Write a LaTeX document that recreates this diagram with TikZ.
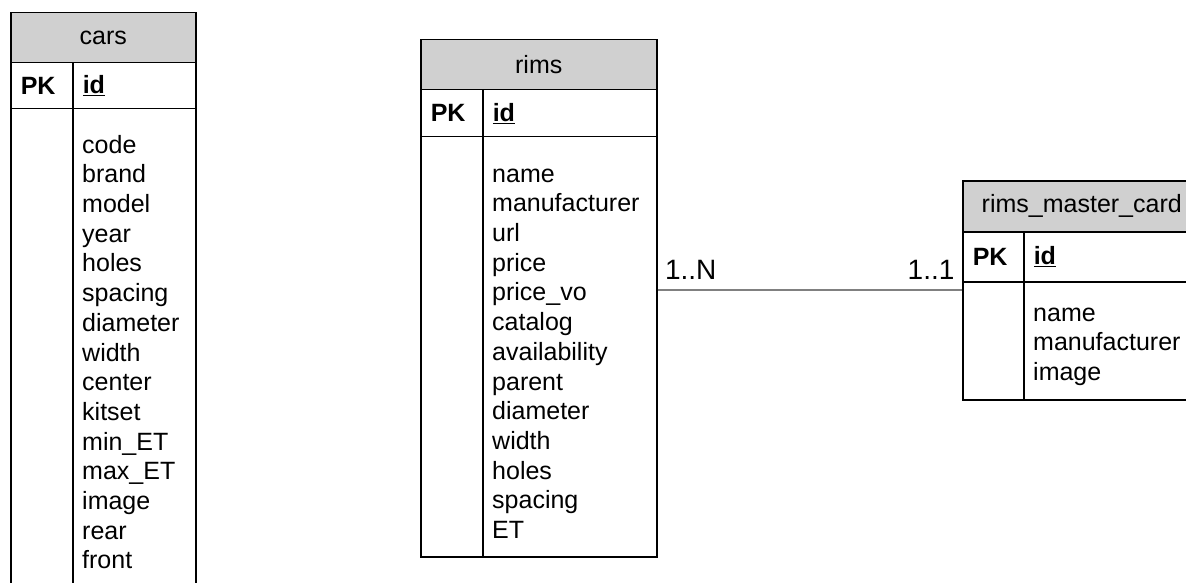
\documentclass[tikz,border=0pt]{standalone}
\usepackage{fontspec}
\setmainfont{Liberation Sans}
\usetikzlibrary{positioning}
\definecolor{hdrgray}{RGB}{208,208,208}
\definecolor{relgray}{RGB}{128,128,128}

\begin{document}
\begin{tikzpicture}[x=1pt,y=-1pt,
  every node/.style={font=\fontsize{25}{29.7}\selectfont},
  head/.style={draw,line width=1.5pt,fill=hdrgray,anchor=north west,minimum height=50pt,inner sep=0pt},
  keycell/.style={draw,line width=1.5pt,anchor=north west,minimum height=46pt,inner xsep=10pt,align=left,
    font=\fontsize{25}{29.7}\selectfont\bfseries},
  bodycell/.style={draw,line width=1.5pt,anchor=north west,inner sep=0pt},
  fields/.style={anchor=north west,inner sep=0pt,align=left},
  card/.style={inner xsep=7pt,inner ysep=10pt,font=\fontsize{28}{33}\selectfont},
  rel/.style={draw=relgray,line width=1.2pt}]
  \useasboundingbox (0,0) rectangle (1186,583);

  % cars
  \node[head,minimum width=185pt] (carsH) at (10,12) {cars};
  \node[keycell,text width=42pt] (carsPK) at (10,62) {PK};
  \node[keycell,text width=103pt] (carsId) at (72,62) {\underline{id}};
  \node[bodycell,minimum width=62pt,minimum height=500pt] (carsL) at (10,108) {};
  \node[bodycell,minimum width=123pt,minimum height=500pt] (carsB) at (72,108) {};
  \node[fields] (carsF) at (82,132.2) {\strut code\\brand\\model\\year\\holes\\spacing\\diameter\\width\\center\\kitset\\min\_ET\\max\_ET\\image\\rear\\front};

  % rims
  \node[head,minimum width=236pt] (rimsH) at (420,39) {rims};
  \node[keycell,text width=42pt,minimum height=47pt] (rimsPK) at (420,89) {PK};
  \node[keycell,text width=154pt,minimum height=47pt] (rimsId) at (482,89) {\underline{id}};
  \node[bodycell,minimum width=62pt,minimum height=420pt] (rimsL) at (420,136) {};
  \node[bodycell,minimum width=174pt,minimum height=420pt] (rimsB) at (482,136) {};
  \node[fields] (rimsF) at (492,161.2) {\strut name\\manufacturer\\url\\price\\price\_vo\\catalog\\availability\\parent\\diameter\\width\\holes\\spacing\\ET};

  % rims_master_card
  \node[head,minimum width=238pt,minimum height=51pt] (mcH) at (962,180) {rims\_master\_card};
  \node[keycell,text width=41pt,minimum height=50pt] (mcPK) at (962,231) {PK};
  \node[keycell,text width=157pt,minimum height=50pt] (mcId) at (1023,231) {\underline{id}};
  \node[bodycell,minimum width=61pt,minimum height=118pt] (mcL) at (962,281) {};
  \node[bodycell,minimum width=177pt,minimum height=118pt] (mcB) at (1023,281) {};
  \node[fields] (mcF) at (1033,300.2) {\strut name\\manufacturer\\image};

  % relation
  \coordinate (relY) at (0,290);
  \draw[rel] (rimsB.east |- relY) -- (mcL.west |- relY)
    node[card,pos=0,above right] (relN) {1..N}
    node[card,pos=1,above left] (relOne) {1..1};
\end{tikzpicture}
\end{document}
